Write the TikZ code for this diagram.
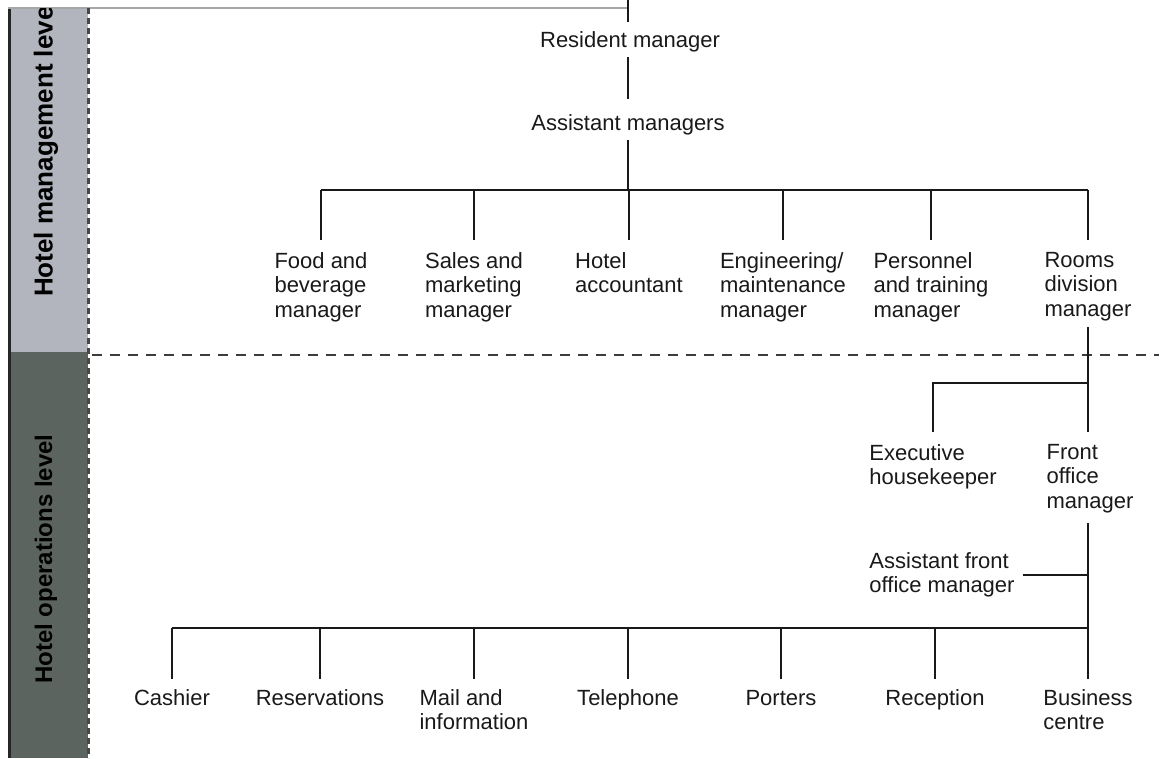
\documentclass[tikz,border=0pt]{standalone}
\usepackage{fontspec}
\setmainfont{Liberation Sans}
\definecolor{lightband}{RGB}{178,180,190}
\definecolor{darkband}{RGB}{92,100,96}
\definecolor{ink}{RGB}{25,25,25}
\begin{document}
\begin{tikzpicture}[x=1pt,y=-1pt,
  lbl/.style={font=\fontsize{22}{24.5}\selectfont, text=ink, align=left, inner sep=0pt, anchor=north},
  clbl/.style={font=\fontsize{22}{24.5}\selectfont, text=ink, inner sep=0pt, anchor=center},
  conn/.style={line width=2.2pt, draw=ink},
  band/.style={font=\bfseries, text=black, rotate=90, inner sep=0pt, anchor=west}]
\useasboundingbox (0,0) rectangle (1159,758);
% level bands
\fill[lightband] (8,8) rectangle (88,352);
\fill[darkband] (8,352) rectangle (88,758);
\draw[line width=3pt, draw=black!85] (9.5,8) -- (9.5,758);
\draw[line width=1.5pt, gray!70] (8,8) -- (628,8);
\draw[line width=3pt, draw=ink!80, dash pattern=on 6pt off 4pt] (88,8) -- (88,758);
\draw[line width=2.4pt, draw=ink!85, dash pattern=on 10pt off 8pt] (92,355) -- (1159,355);
\begin{scope}
\clip (8,8) rectangle (88,352);
\node[band, font=\fontsize{26}{30}\selectfont\bfseries] (hml) at (46,297) {Hotel management level};
\end{scope}
\node[band, font=\fontsize{24}{28}\selectfont\bfseries] (hol) at (46,684) {Hotel operations level};
% top
\coordinate (top) at (628,0);
\node[clbl] (rm) at (630,42) {Resident manager};
\node[clbl] (am) at (628,125) {Assistant managers};
\coordinate (bar1) at (628,190);
% managers
\node[lbl] (fb) at (321,252) {Food and\\beverage\\manager};
\node[lbl] (sm) at (474,252) {Sales and\\marketing\\manager};
\node[lbl] (ha) at (629,252) {Hotel\\accountant};
\node[lbl] (em) at (783,252) {Engineering/\\maintenance\\manager};
\node[lbl] (pt) at (931,252) {Personnel\\and training\\manager};
\node[lbl] (rd) at (1088,252) {Rooms\\division\\manager};
% operations
\coordinate (j2) at (1088,383);
\node[lbl] (eh) at (933,444) {Executive\\housekeeper};
\node[lbl] (fo) at (1090,444) {Front\\office\\manager};
\node[lbl] (af) at (942,552) {Assistant front\\office manager};
\coordinate (bar2) at (1088,628);
\node[lbl] (ca) at (172,689) {Cashier};
\node[lbl] (re) at (320,689) {Reservations};
\node[lbl] (mi) at (474,689) {Mail and\\information};
\node[lbl] (te) at (628,689) {Telephone};
\node[lbl] (po) at (781,689) {\vphantom{l}Porters};
\node[lbl] (rc) at (935,689) {Reception};
\node[lbl] (bc) at (1088,689) {Business\\centre};
% connectors
\draw[conn] (top) -- ([yshift=10pt]rm.north -| top);
\draw[conn] ([yshift=-5pt]rm.south -| top) -- ([yshift=16pt]am.north);
\draw[conn] ([yshift=-5pt]am.south) -- (bar1);
\draw[conn] (fb.north |- bar1) -- (rd.north |- bar1);
\foreach \n in {fb,sm,ha,em,pt,rd} \draw[conn] (\n.north |- bar1) -- ([yshift=12pt]\n.north);
\draw[conn] ([yshift=-6pt]rd.south -| j2) -- ([yshift=12pt]fo.north -| j2);
\draw[conn] (j2) -| ([yshift=12pt]eh.north);
\draw[conn] ([yshift=-10pt]fo.south -| j2) -- (bar2);
\draw[conn] ([xshift=8pt]af.east) -- (af.east -| j2);
\draw[conn] (ca.north |- bar2) -- (bar2);
\foreach \n in {ca,re,mi,te,po,rc} \draw[conn] (\n.north |- bar2) -- ([yshift=10pt]\n.north);
\draw[conn] (bar2) -- ([yshift=10pt]bc.north -| j2);
\end{tikzpicture}
\end{document}
